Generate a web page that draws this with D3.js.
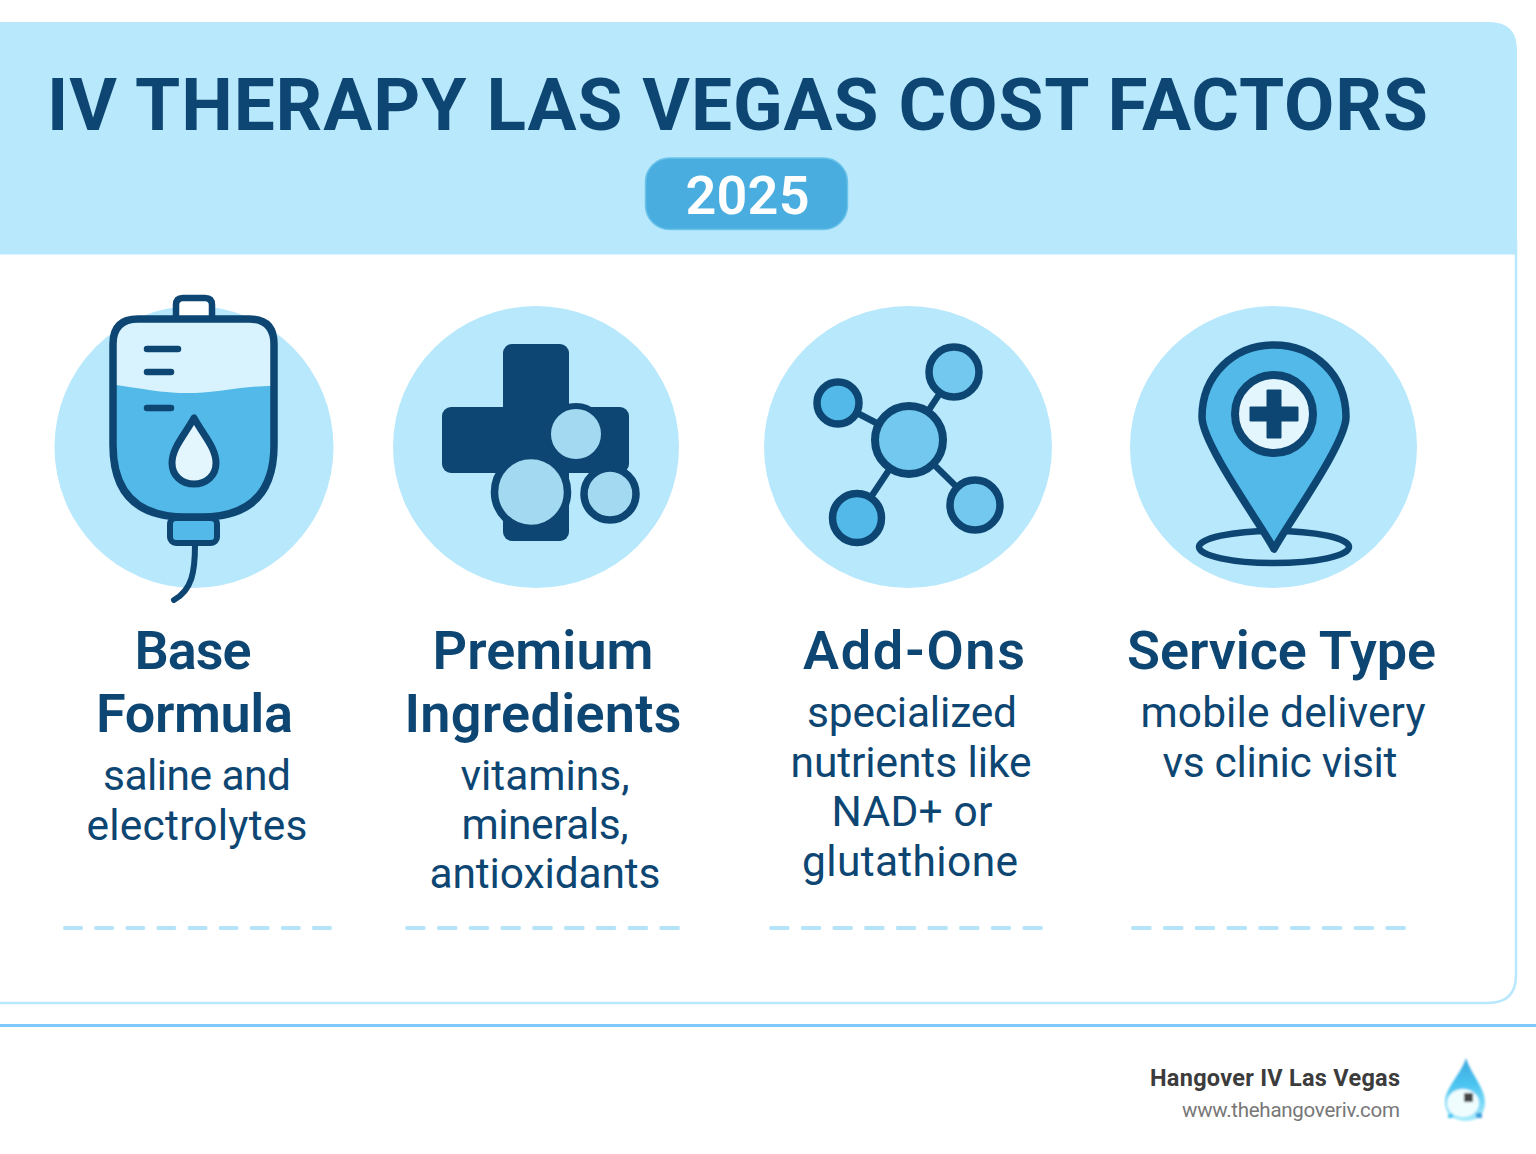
<!DOCTYPE html>
<html><head><meta charset="utf-8">
<script src="https://cdnjs.cloudflare.com/ajax/libs/d3/7.8.5/d3.min.js"></script>
<style>html,body{margin:0;padding:0;background:#fff;overflow:hidden}svg{display:block}text{font-family:Roboto,sans-serif}</style>
</head><body>
<script>
const chartTitle = "IV THERAPY LAS VEGAS COST FACTORS";
const yearLabel = "2025";
const factorTitles = [["Base","Formula"],["Premium","Ingredients"],["Add-Ons"],["Service Type"]];
const factorDetails = [
  ["saline and","electrolytes"],
  ["vitamins,","minerals,","antioxidants"],
  ["specialized","nutrients like","NAD+ or","glutathione"],
  ["mobile delivery","vs clinic visit"]
];
const brandName = "Hangover IV Las Vegas";
const brandUrl = "www.thehangoveriv.com";

const NAVY="#0d4672", PALE="#b8e8fc", MID="#52b9e8", SOFT="#72c8ee", ICE="#d9f3fe", DISC="#a3d9f1";
const svg=d3.select("body").append("svg").attr("width",1536).attr("height",1154);
const defs=svg.append("defs");
defs.append("filter").attr("id","soft").append("feGaussianBlur").attr("stdDeviation",1.3);

function label(g,str,x,y,size,weight,fill,width,anchor){
  const t=g.append("text").text(str).attr("x",x).attr("y",y).attr("font-size",size)
    .attr("font-weight",weight).attr("fill",fill).attr("text-anchor",anchor||"middle");
  if(width) t.attr("textLength",width).attr("lengthAdjust","spacing");
  return t;
}
function ring(g,cx,cy,r,fill,sw){
  return g.append("circle").attr("cx",cx).attr("cy",cy).attr("r",r).attr("fill",fill).attr("stroke",NAVY).attr("stroke-width",sw||6);
}
function seg(g,x1,y1,x2,y2,sw){
  return g.append("line").attr("x1",x1).attr("y1",y1).attr("x2",x2).attr("y2",y2).attr("stroke",NAVY).attr("stroke-width",sw||6).attr("stroke-linecap","round");
}

// card + header
svg.append("path").attr("d","M-40,240H1516V975Q1516,1003 1488,1003H-40Z").attr("fill","#fff").attr("stroke",PALE).attr("stroke-width",2.5);
svg.append("path").attr("d","M-2,22H1489Q1517,22 1517,50V254.5H-2Z").attr("fill",PALE);
label(svg,chartTitle,737.5,130,73,700,NAVY,1381);
svg.append("rect").attr("x",645.5).attr("y",158).attr("width",202).attr("height",71.5).attr("rx",24).attr("fill","#49aedf").attr("stroke","#6cc3ea").attr("stroke-width",1.5);
label(svg,yearLabel,747.5,214,54,600,"#fff",124);

// disc backdrops
const discs=[[194,447,139.5,141],[536,447,143,141],[908,447,144,141],[1273.5,447,143.5,141]];
svg.selectAll("ellipse.disc").data(discs).join("ellipse").attr("class","disc")
  .attr("cx",d=>d[0]).attr("cy",d=>d[1]).attr("rx",d=>d[2]).attr("ry",d=>d[3]).attr("fill",PALE);

// IV bag
const bag=svg.append("g");
bag.append("path").attr("d","M176,318V305Q176,298 183,298H205Q212,298 212,305V318").attr("fill","#fff").attr("stroke",NAVY).attr("stroke-width",6.5);
const bagShape="M113,344Q113,319 138,319H249Q274,319 274,344V445Q274,517 202,517H185Q113,517 113,445Z";
bag.append("path").attr("d",bagShape).attr("fill",ICE);
bag.append("clipPath").attr("id","bagClip").append("path").attr("d",bagShape);
bag.append("path").attr("clip-path","url(#bagClip)").attr("fill",MID)
  .attr("d","M110,384C140,388 165,394 195,393C225,392 245,385 280,386V525H110Z");
bag.append("path").attr("d",bagShape).attr("fill","none").attr("stroke",NAVY).attr("stroke-width",7.5);
seg(bag,147,349,178,349,6.5); seg(bag,147,372,171,372,6.5); seg(bag,147,408,171,408,6.5);
bag.append("path").attr("d","M194,418C184,436 172,448 172,463C172,476 182,484 194,484C206,484 216,476 216,463C216,448 204,436 194,418Z").attr("fill","#e3f5fd").attr("stroke",NAVY).attr("stroke-width",7).attr("stroke-linejoin","round");
bag.append("rect").attr("x",170).attr("y",518).attr("width",47).attr("height",25).attr("rx",6).attr("fill",MID).attr("stroke",NAVY).attr("stroke-width",6);
bag.append("path").attr("d","M195,545C195,572 192,590 174,600").attr("fill","none").attr("stroke",NAVY).attr("stroke-width",6).attr("stroke-linecap","round");

// cross and capsules
const cross=svg.append("g");
cross.append("rect").attr("x",503).attr("y",344).attr("width",66).attr("height",197).attr("rx",9).attr("fill",NAVY);
cross.append("rect").attr("x",442).attr("y",407).attr("width",187).attr("height",66).attr("rx",9).attr("fill",NAVY);
ring(cross,576,434,28,DISC,6);
ring(cross,531,492,36.5,DISC,7.5);
ring(cross,610,494,26,DISC,7.5);

// molecule
const mol=svg.append("g");
seg(mol,909,440,838,403,6.5); seg(mol,909,440,954,372,6.5); seg(mol,909,440,857,518,6.5); seg(mol,909,440,975,505,6.5);
ring(mol,909,440,34,SOFT,8);
ring(mol,838,403,21,MID,7.5);
ring(mol,954,372,25,SOFT,7.5);
ring(mol,857,518,24.5,MID,7.5);
ring(mol,975,505,25,SOFT,7.5);

// location pin
const pin=svg.append("g");
pin.append("ellipse").attr("cx",1274).attr("cy",547).attr("rx",75).attr("ry",16).attr("fill","none").attr("stroke",NAVY).attr("stroke-width",6.5);
pin.append("path").attr("d","M1274,549C1262,526 1202,444 1202,417C1202,375 1234,345 1274,345C1314,345 1346,375 1346,417C1346,444 1286,526 1274,549Z").attr("fill",MID).attr("stroke",NAVY).attr("stroke-width",7.5).attr("stroke-linejoin","round");
ring(pin,1274,414,39,"#e3f5fd",8);
pin.append("path").attr("d","M1267,390H1281V407H1298V421H1281V438H1267V421H1250V407H1267Z").attr("fill",NAVY).attr("stroke",NAVY).attr("stroke-width",1).attr("stroke-linejoin","round");

// column text
const titleCx=[[193,194.5],[543,543],[914],[1281.5]];
const titleW=[[117,197],[221,277],[222],[309]];
const titleY=[[669,732],[669,732],[669],[669]];
const detailCx=[[197,197],[545,545,545],[912,911,912,910],[1283,1280]];
const detailW=[[188,221],[169,167,231],[210,241,161,216],[285,235]];
const detailY=[[790,840],[790,839,888],[727,777,826,876],[727,777]];
factorTitles.forEach((lines,i)=>lines.forEach((s,j)=>label(svg,s,titleCx[i][j],titleY[i][j],54,600,NAVY,titleW[i][j])));
factorDetails.forEach((lines,i)=>lines.forEach((s,j)=>label(svg,s,detailCx[i][j],detailY[i][j],42.5,400,NAVY,detailW[i][j])));

// dashed separators
const dashRuns=[[65,330],[407,678],[771,1041],[1133,1404]];
svg.selectAll("line.sep").data(dashRuns).join("line").attr("class","sep")
  .attr("x1",d=>d[0]).attr("x2",d=>d[1]).attr("y1",928).attr("y2",928)
  .attr("stroke","#b5e3f8").attr("stroke-width",4).attr("stroke-linecap","round")
  .attr("stroke-dasharray",d=>{const unit=(d[1]-d[0]+15)/9;return (unit-15)+" 15";});

// footer
svg.append("rect").attr("x",0).attr("y",1024).attr("width",1536).attr("height",3).attr("fill","#7fc8fb");
label(svg,brandName,1400,1086,23.5,700,"#3c3c3c",250,"end");
label(svg,brandUrl,1400,1117,20.5,400,"#777777",218,"end");
const logoGrad=defs.append("linearGradient").attr("id","logoGrad").attr("x1",0).attr("x2",0).attr("y1",0).attr("y2",1);
logoGrad.append("stop").attr("offset",0).attr("stop-color","#3fa6dc");
logoGrad.append("stop").attr("offset",.4).attr("stop-color","#49c3f0");
logoGrad.append("stop").attr("offset",1).attr("stop-color","#a8ecfb");
const logo=svg.append("g").attr("filter","url(#soft)");
logo.append("path").attr("d","M1466,1058C1461,1074 1445,1088 1445,1102C1445,1115 1455,1121 1466,1121C1477,1121 1485,1115 1485,1102C1485,1088 1471,1074 1466,1058Z").attr("fill","url(#logoGrad)");
logo.append("ellipse").attr("cx",1463).attr("cy",1103).attr("rx",16).attr("ry",14).attr("fill","#f0fdff");
logo.append("rect").attr("x",1464).attr("y",1093).attr("width",9).attr("height",9).attr("fill","#444");
logo.append("rect").attr("x",1448).attr("y",1114).attr("width",5).attr("height",4).attr("fill","#4cc4f0");
logo.append("rect").attr("x",1476).attr("y",1113).attr("width",6).attr("height",5).attr("fill","#3f9fdc");
</script>
</body></html>
